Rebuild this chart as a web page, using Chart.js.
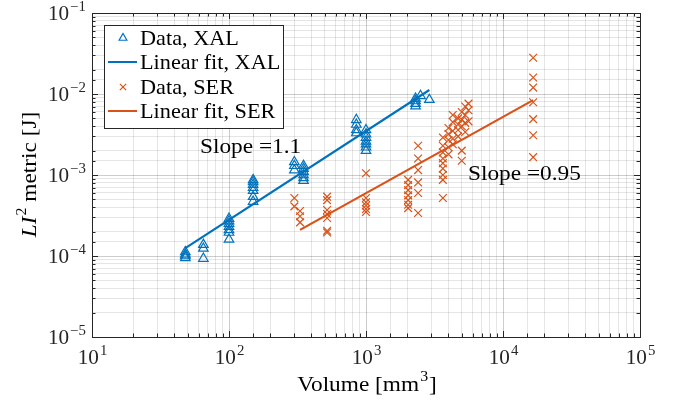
<!DOCTYPE html>
<html>
<head>
<meta charset="utf-8">
<script src="https://cdn.jsdelivr.net/npm/chart.js@4.4.0/dist/chart.umd.min.js"></script>
<style>
  html, body { margin: 0; padding: 0; background: #fff; }
</style>
</head>
<body>
<canvas id="lawsonChart" width="679" height="400"></canvas>
<script>
// values: volume [mm^3] -> LI^2 metric [J]
const xalVolumes = [48, 65, 100, 150, 300, 350, 850, 1000, 2300, 2500, 2900];
const xalMetrics = [
  [1.12e-4, 1.05e-4, 1.0e-4, 0.95e-4],
  [1.38e-4, 1.24e-4, 0.93e-4],
  [2.9e-4, 2.7e-4, 2.5e-4, 2.3e-4, 2.1e-4, 1.95e-4, 1.6e-4],
  [8.7e-4, 8.2e-4, 7.6e-4, 7.0e-4, 6.4e-4, 5.4e-4, 4.7e-4],
  [1.45e-3, 1.3e-3, 1.15e-3],
  [1.3e-3, 1.2e-3, 1.1e-3, 1.0e-3, 0.92e-3, 0.85e-3],
  [4.8e-3, 4.2e-3, 3.6e-3, 3.3e-3],
  [3.6e-3, 3.2e-3, 2.9e-3, 2.6e-3, 2.4e-3, 2.2e-3, 2.0e-3],
  [8.8e-3, 8.2e-3, 7.6e-3, 7.1e-3],
  [9.5e-3],
  [8.5e-3]
];
const serVolumes = [300, 330, 520, 1000, 2030, 2400, 3640, 4000, 4300, 4700, 5000, 5300, 5600, 16600];
const serMetrics = [
  [5.2e-4, 4.1e-4],
  [3.6e-4, 3.1e-4, 2.6e-4],
  [5.4e-4, 4.9e-4, 3.7e-4, 3.3e-4, 2.95e-4, 2.05e-4, 1.95e-4],
  [1.05e-3, 5.2e-4, 4.6e-4, 4.2e-4, 3.8e-4, 3.5e-4],
  [8.7e-4, 7.5e-4, 6.5e-4, 5.6e-4, 4.9e-4, 4.3e-4, 3.9e-4],
  [2.3e-3, 1.6e-3, 1.15e-3, 8.1e-4, 6.0e-4, 3.4e-4],
  [2.9e-3, 2.3e-3, 1.9e-3, 1.6e-3, 1.4e-3, 1.2e-3, 1.0e-3, 8.7e-4, 5.2e-4],
  [3.8e-3, 3.2e-3, 2.7e-3, 2.2e-3, 1.8e-3],
  [5.5e-3, 4.5e-3, 3.5e-3, 2.8e-3, 2.4e-3],
  [5.0e-3, 4.2e-3, 3.6e-3, 3.0e-3],
  [6.0e-3, 4.8e-3, 4.0e-3, 2.0e-3, 1.5e-3],
  [7.0e-3, 5.5e-3, 4.4e-3, 3.4e-3],
  [7.6e-3, 6.3e-3, 4.6e-3],
  [2.8e-2, 1.6e-2, 1.2e-2, 7.9e-3, 4.9e-3, 3.1e-3, 1.66e-3]
];
// fitted lines, end points
const xalFitVolume = [48, 2900];
const xalFitMetric = [1.25e-4, 1.12e-2];
const serFitVolume = [330, 16600];
const serFitMetric = [2.1e-4, 8.4e-3];

const xDecades = [1, 2, 3, 4, 5];
const yDecades = [-5, -4, -3, -2, -1];
const legendLabels = ['Data, XAL', 'Linear fit, XAL', 'Data, SER', 'Linear fit, SER'];

const blue = '#0072BD';
const orange = '#D95319';
const serif = '"Liberation Serif", "DejaVu Serif", serif';
const stretch = 1.06; // LaTeX font runs a bit wider than Times

function toPoints(xs, ys) {
  var pts = [];
  xs.forEach(function (x, i) {
    [].concat(ys[i]).forEach(function (y) { pts.push({ x: x, y: y }); });
  });
  return pts;
}

function isDecade(v) {
  var l = Math.log10(v);
  return Math.abs(l - Math.round(l)) < 1e-6;
}

// draw text widened a little, returns the drawn width
function wideText(ctx, s, x, y, font) {
  ctx.font = font;
  ctx.textAlign = 'left';
  var w = ctx.measureText(s).width * stretch;
  if (x !== null) {
    ctx.save();
    ctx.translate(x, y);
    ctx.scale(stretch, 1);
    ctx.fillText(s, 0, 0);
    ctx.restore();
  }
  return w;
}

// draws 10^exp, anchor x (center or right), baseline y
function drawPower(ctx, exp, x, y, align) {
  var sup = exp < 0 ? '\u2212' + Math.abs(exp) : String(exp);
  var wb = wideText(ctx, '10', null, 0, '20px ' + serif);
  var ws = wideText(ctx, sup, null, 0, '14px ' + serif);
  var left = align === 'right' ? x - wb - ws : x - (wb + ws) / 2;
  wideText(ctx, '10', left, y, '20px ' + serif);
  wideText(ctx, sup, left + wb + 1, y - 9, '14px ' + serif);
}

function drawMarker(ctx, kind, x, y, r, color) {
  ctx.save();
  ctx.strokeStyle = color;
  ctx.lineWidth = 1.2;
  ctx.beginPath();
  if (kind === 'triangle') {
    ctx.moveTo(x, y - r);
    ctx.lineTo(x + r * 0.866, y + r * 0.5);
    ctx.lineTo(x - r * 0.866, y + r * 0.5);
    ctx.closePath();
  } else {
    var d = r * 0.7;
    ctx.moveTo(x - d, y - d); ctx.lineTo(x + d, y + d);
    ctx.moveTo(x + d, y - d); ctx.lineTo(x - d, y + d);
  }
  ctx.stroke();
  ctx.restore();
}

const decorPlugin = {
  id: 'decor',
  afterDraw: function (chart) {
    var ctx = chart.ctx;
    var a = chart.chartArea;
    var xs = chart.scales.x, ys = chart.scales.y;
    ctx.save();
    ctx.fillStyle = '#000';
    ctx.strokeStyle = '#262626';
    ctx.lineWidth = 1;

    // inward ticks on all four sides
    ctx.beginPath();
    xs.ticks.forEach(function (t) {
      var px = Math.round(xs.getPixelForValue(t.value)) + 0.5;
      var len = isDecade(t.value) ? 6 : 3.5;
      ctx.moveTo(px, a.bottom); ctx.lineTo(px, a.bottom - len);
      ctx.moveTo(px, a.top); ctx.lineTo(px, a.top + len);
    });
    ys.ticks.forEach(function (t) {
      var py = Math.round(ys.getPixelForValue(t.value)) + 0.5;
      var len = isDecade(t.value) ? 6 : 3.5;
      ctx.moveTo(a.left, py); ctx.lineTo(a.left + len, py);
      ctx.moveTo(a.right, py); ctx.lineTo(a.right - len, py);
    });
    ctx.stroke();
    ctx.strokeRect(Math.round(a.left) + 0.5, Math.round(a.top) + 0.5,
      Math.round(a.right - a.left), Math.round(a.bottom - a.top));

    // tick labels
    ctx.fillStyle = '#262626';
    xDecades.forEach(function (e) {
      drawPower(ctx, e, xs.getPixelForValue(Math.pow(10, e)), a.bottom + 27, 'center');
    });
    yDecades.forEach(function (e) {
      drawPower(ctx, e, a.left - 7, ys.getPixelForValue(Math.pow(10, e)) + 7, 'right');
    });

    // axis titles
    ctx.fillStyle = '#000';
    var big = '22px ' + serif, small = '15px ' + serif;
    var w1 = wideText(ctx, 'Volume [mm', null, 0, big);
    var w2 = wideText(ctx, '3', null, 0, small);
    var w3 = wideText(ctx, ']', null, 0, big);
    var x0 = (a.left + a.right) / 2 - (w1 + w2 + w3) / 2;
    wideText(ctx, 'Volume [mm', x0, 391, big);
    wideText(ctx, '3', x0 + w1 + 1, 381, small);
    wideText(ctx, ']', x0 + w1 + w2 + 2, 391, big);

    ctx.save();
    ctx.translate(36, (a.top + a.bottom) / 2);
    ctx.rotate(-Math.PI / 2);
    var ital = 'italic ' + big;
    var pw1 = wideText(ctx, 'LI', null, 0, ital);
    var pw2 = wideText(ctx, '2', null, 0, small);
    var pw3 = wideText(ctx, ' metric [J]', null, 0, big);
    var y0 = -(pw1 + pw2 + pw3) / 2;
    wideText(ctx, 'LI', y0, 0, ital);
    wideText(ctx, '2', y0 + pw1 + 1, -10, small);
    wideText(ctx, ' metric [J]', y0 + pw1 + pw2 + 1, 0, big);
    ctx.restore();

    // slope notes
    var mid = '21px ' + serif;
    var note = '22px ' + serif;
    wideText(ctx, 'Slope =1.1', 200, 153, note);
    wideText(ctx, 'Slope =0.95', 468, 180, note);

    // legend box
    var lx = 104.5, ly = 25.5, lw = 179, lh = 103;
    ctx.fillStyle = '#fff';
    ctx.fillRect(lx, ly, lw, lh);
    ctx.strokeStyle = '#262626';
    ctx.strokeRect(lx, ly, lw, lh);
    var rows = [38, 62, 87, 111];
    var kinds = ['triangle', 'line', 'cross', 'line'];
    var colors = [blue, blue, orange, orange];
    rows.forEach(function (ry, i) {
      if (kinds[i] === 'line') {
        ctx.save();
        ctx.strokeStyle = colors[i];
        ctx.lineWidth = 2;
        ctx.beginPath();
        ctx.moveTo(108, ry); ctx.lineTo(137, ry);
        ctx.stroke();
        ctx.restore();
      } else {
        drawMarker(ctx, kinds[i], 123, ry, 4.5, colors[i]);
      }
      ctx.fillStyle = '#000';
      wideText(ctx, legendLabels[i], 140, ry + 7, mid);
    });
    ctx.restore();
  }
};

var gridColor = function (c) {
  return c.tick && isDecade(c.tick.value) ? 'rgba(0,0,0,0.2)' : 'rgba(0,0,0,0.1)';
};

new Chart(document.getElementById('lawsonChart').getContext('2d'), {
  type: 'scatter',
  data: {
    datasets: [
      {
        label: 'Data, XAL',
        data: toPoints(xalVolumes, xalMetrics),
        pointStyle: 'triangle',
        pointRadius: 5.5,
        borderColor: blue,
        backgroundColor: 'rgba(0,0,0,0)',
        borderWidth: 1.2
      },
      {
        label: 'Linear fit, XAL',
        data: toPoints(xalFitVolume, xalFitMetric),
        showLine: true,
        pointRadius: 0,
        borderColor: blue,
        borderWidth: 2.2
      },
      {
        label: 'Data, SER',
        data: toPoints(serVolumes, serMetrics),
        pointStyle: 'crossRot',
        pointRadius: 5.5,
        borderColor: orange,
        backgroundColor: orange,
        borderWidth: 1.2
      },
      {
        label: 'Linear fit, SER',
        data: toPoints(serFitVolume, serFitMetric),
        showLine: true,
        pointRadius: 0,
        borderColor: orange,
        borderWidth: 2.2
      }
    ]
  },
  options: {
    responsive: false,
    animation: false,
    events: [],
    layout: { padding: { top: 13, right: 39, left: 0, bottom: 0 } },
    scales: {
      x: {
        type: 'logarithmic',
        min: 10,
        max: 1e5,
        ticks: { display: false, autoSkip: false },
        grid: { color: gridColor, drawTicks: false },
        border: { display: false },
        afterFit: function (s) { s.height = 63; }
      },
      y: {
        type: 'logarithmic',
        min: 1e-5,
        max: 0.1,
        ticks: { display: false, autoSkip: false },
        grid: { color: gridColor, drawTicks: false },
        border: { display: false },
        afterFit: function (s) { s.width = 92; }
      }
    },
    plugins: {
      legend: { display: false },
      tooltip: { enabled: false }
    }
  },
  plugins: [decorPlugin]
});
</script>
</body>
</html>
